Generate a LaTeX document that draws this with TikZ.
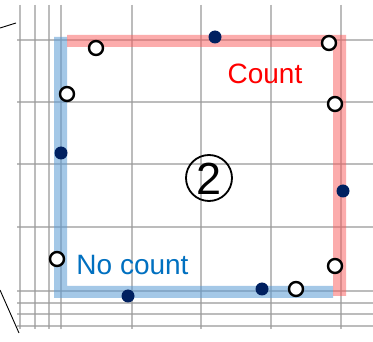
\documentclass[tikz,border=0pt]{standalone}
\usepackage{fontspec}
\setmainfont{Liberation Sans}
\definecolor{navy}{RGB}{0,32,96}
\definecolor{bandblue}{RGB}{91,155,213}
\definecolor{bandred}{RGB}{250,90,90}
\definecolor{labelblue}{RGB}{0,112,192}
\tikzset{
  gridline/.style={draw=black!40, line width=1.6pt, opacity=0.65},
  filleddot/.style={circle, fill=navy, minimum size=13pt, inner sep=0pt},
  opendot/.style={circle, draw=black, fill=white, line width=2.4pt, minimum size=14pt, inner sep=0pt},
  labeltext/.style={font=\fontsize{28}{30}\selectfont, inner sep=0pt, anchor=base},
}
\begin{document}
\begin{tikzpicture}[x=1pt, y=-1pt]
\useasboundingbox (0,0) rectangle (373,342);
\fill[white] (0,0) rectangle (373,342);

% background grid
\foreach \gx in {20,35,49,61,132,201,271,341}
  \draw[gridline] (\gx,5) -- (\gx,329);
\foreach \gy in {40,102,164,227,291,303,314,326}
  \draw[gridline] (17,\gy) -- (373,\gy);

% translucent bands
\fill[bandblue, opacity=0.55]
  (54,37) -- (67,37) -- (67,286) -- (333,286) -- (333,298) -- (54,298) -- cycle;
\fill[bandred, opacity=0.5]
  (67,35) -- (346,35) -- (346,296) -- (333,296) -- (333,47) -- (67,47) -- cycle;

% outer leader lines
\coordinate (ltA) at (0,28);
\coordinate (ltB) at (16,23);
\coordinate (lbA) at (0,290);
\coordinate (lbB) at (19,333);
\draw[black, line width=0.9pt] (ltA) -- (ltB);
\draw[black, line width=0.9pt] (lbA) -- (lbB);

% labels
\node[labeltext, text=red] (count) at (265,84) {Count};
\node[labeltext, text=labelblue] (nocount) at (132.5,275) {No count};
\node[circle, draw=black, line width=1.8pt, minimum size=46pt, inner sep=0pt] (mark) at (209,178) {};
\node[font=\fontsize{45}{47}\selectfont, inner sep=0pt, anchor=base] (marknum) at (209,194.5) {2};

% filled points
\node[filleddot] (f1) at (215,37) {};
\node[filleddot] (f2) at (61,153) {};
\node[filleddot] (f3) at (343,191) {};
\node[filleddot] (f4) at (128,296) {};
\node[filleddot] (f5) at (262,289) {};

% open points
\node[opendot] (o1) at (96,48) {};
\node[opendot] (o2) at (67,94) {};
\node[opendot] (o3) at (329,43) {};
\node[opendot] (o4) at (335,104) {};
\node[opendot] (o5) at (57,259) {};
\node[opendot] (o6) at (335,266) {};
\node[opendot] (o7) at (296,289) {};
\end{tikzpicture}
\end{document}
